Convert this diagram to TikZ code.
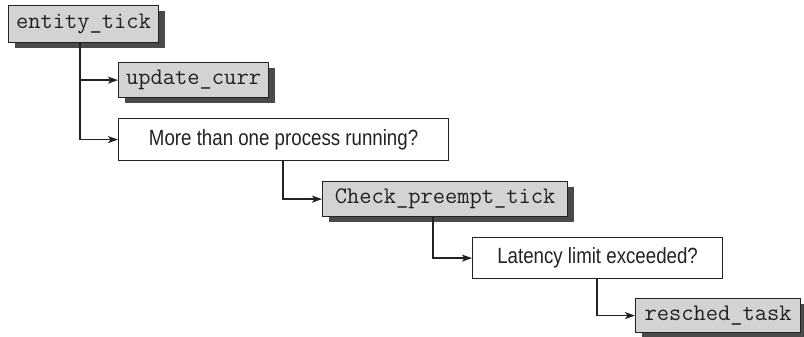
\documentclass[tikz,border=0pt]{standalone}
\usepackage{fontspec}
\setmainfont{Liberation Sans}
\newfontfamily\condf[FakeStretch=0.85]{Liberation Sans}
\usetikzlibrary{arrows.meta,shadows}
\definecolor{boxgray}{HTML}{D3D3D3}
\definecolor{shadowgray}{HTML}{4A4A4A}
\definecolor{inkc}{HTML}{222222}
\begin{document}
\begin{tikzpicture}[x=1pt,y=-1pt,
  basebox/.style={draw=inkc, line width=1.2pt, anchor=north west, inner sep=0pt, text=inkc},
  graybox/.style={basebox, fill=boxgray,
     drop shadow={shadow xshift=6pt, shadow yshift=-5pt, fill=shadowgray, opacity=1},
     font=\ttfamily\fontsize{23.8}{26}\selectfont},
  whitebox/.style={basebox, fill=white, font=\condf\fontsize{22}{25}\selectfont},
  conn/.style={draw=inkc, line width=1.6pt, -{Stealth[length=10pt,width=7pt,inset=2.5pt]}}]
\useasboundingbox (0,0) rectangle (804,337);
\node[graybox, minimum width=150pt, minimum height=37pt] (et) at (8,5) {entity\_tick};
\node[graybox, minimum width=150pt, minimum height=35pt] (uc) at (118,62) {update\_curr};
\node[whitebox, minimum width=330pt, minimum height=42pt] (mp) at (118,118) {More than one process running?};
\node[graybox, minimum width=245pt, minimum height=35pt] (cp) at (322,181) {Check\_preempt\_tick};
\node[whitebox, minimum width=250pt, minimum height=41pt] (ll) at (472,237) {Latency limit exceeded?};
\node[graybox, minimum width=165pt, minimum height=34pt] (rt) at (635,298) {resched\_task};
\draw[conn] ([xshift=72pt]et.south west) |- (uc.west);
\draw[conn] ([xshift=72pt]et.south west) |- (mp.west);
\draw[conn] ([xshift=165pt]mp.south west) |- (cp.west);
\draw[conn] ([xshift=111pt]cp.south west) |- (ll.west);
\draw[conn] ([xshift=125pt]ll.south west) |- (rt.west);
\end{tikzpicture}
\end{document}
